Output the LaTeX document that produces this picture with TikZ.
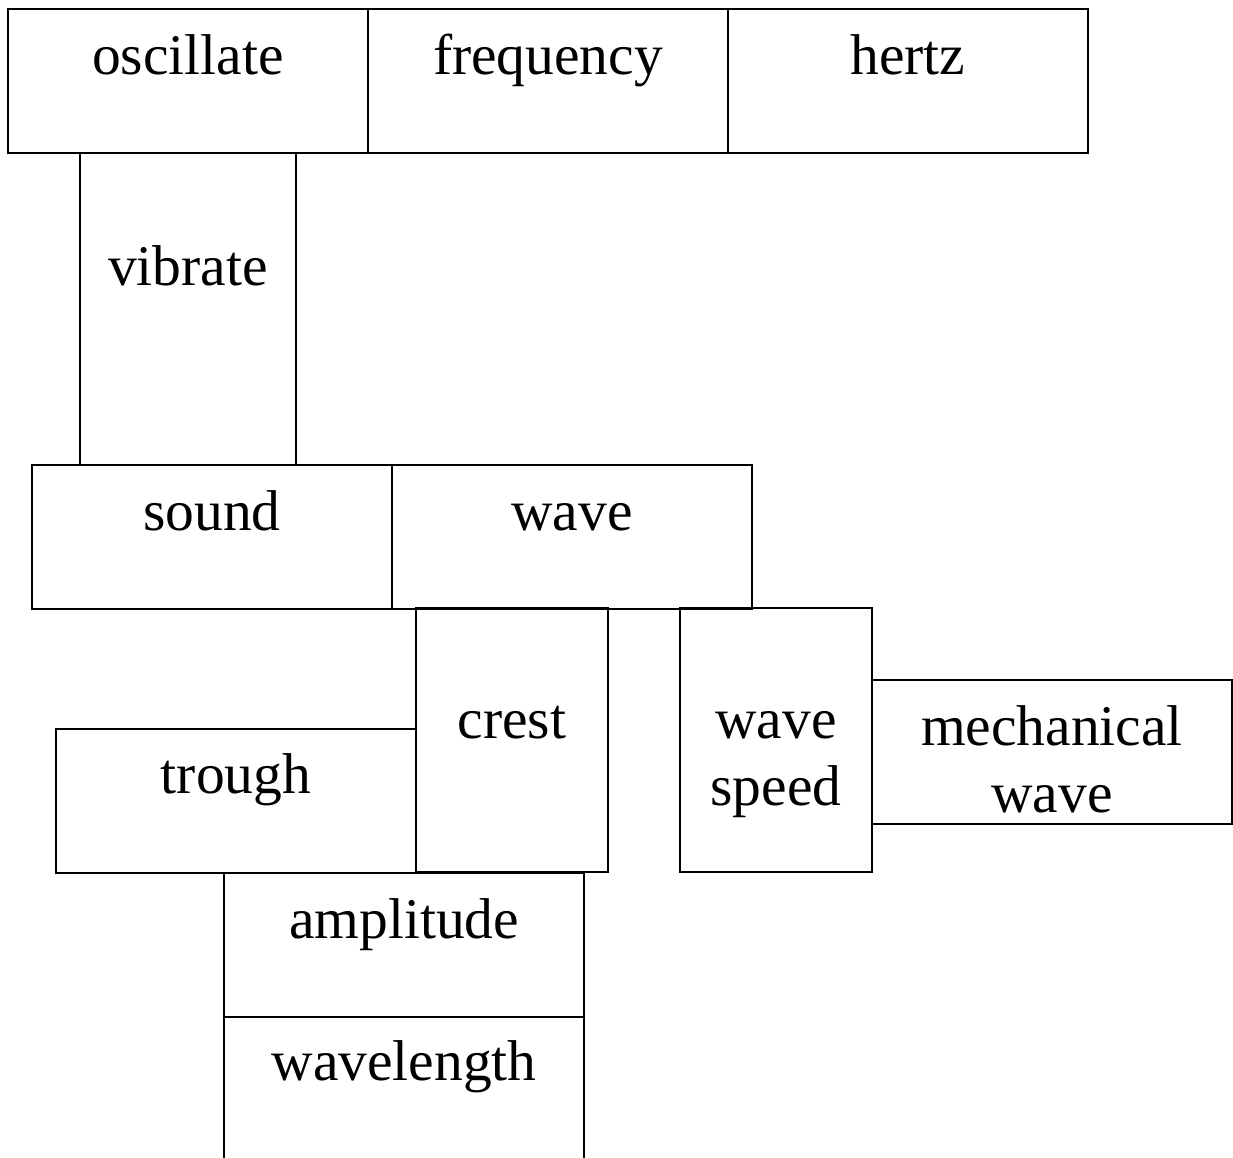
\documentclass[tikz,border=0pt]{standalone}
\usepackage{fontspec}
\setmainfont{Liberation Serif}
\tikzset{
  cell/.style={draw, line width=2pt, inner sep=0pt, anchor=north west},
  word/.style={inner sep=0pt, anchor=base, align=center,
    font=\fontsize{57.5}{67}\selectfont}
}
\begin{document}
\begin{tikzpicture}[x=1pt,y=-1pt]
  \useasboundingbox (0,0) rectangle (1233,1157);
  % boxes
  \node[cell, minimum width=360pt, minimum height=144pt] (oscillate) at (7,8) {};
  \node[cell, minimum width=360pt, minimum height=144pt] (frequency) at (367,8) {};
  \node[cell, minimum width=360pt, minimum height=144pt] (hertz) at (727,8) {};
  \node[cell, minimum width=216pt, minimum height=312pt] (vibrate) at (79,152) {};
  \node[cell, minimum width=360pt, minimum height=144pt] (sound) at (31,464) {};
  \node[cell, minimum width=360pt, minimum height=144pt] (wave) at (391,464) {};
  \node[cell, minimum width=360pt, minimum height=144pt] (trough) at (55,728) {};
  \node[cell, minimum width=192pt, minimum height=264pt] (crest) at (415,607) {};
  \node[cell, minimum width=192pt, minimum height=264pt] (speed) at (679,607) {};
  \node[cell, minimum width=360pt, minimum height=144pt] (mechanical) at (871,679) {};
  \node[cell, minimum width=360pt, minimum height=144pt] (amplitude) at (223,872) {};
  \node[cell, minimum width=360pt, minimum height=144pt] (wavelength) at (223,1016) {};
  % words (base = last line)
  \node[word] (oscillate-t) at ([yshift=-66pt]oscillate.north) {oscillate};
  \node[word] (frequency-t) at ([yshift=-66pt]frequency.north) {frequency};
  \node[word] (hertz-t) at ([yshift=-66pt]hertz.north) {hertz};
  \node[word] (vibrate-t) at ([yshift=-133pt]vibrate.north) {vibrate};
  \node[word] (sound-t) at ([yshift=-66pt]sound.north) {sound};
  \node[word] (wave-t) at ([yshift=-66pt]wave.north) {wave};
  \node[word] (trough-t) at ([yshift=-65pt]trough.north) {trough};
  \node[word] (crest-t) at ([yshift=-131pt]crest.north) {crest};
  \node[word] (speed-t) at ([yshift=-198pt]speed.north) {wave\\speed};
  \node[word] (mechanical-t) at ([yshift=-133pt]mechanical.north) {mechanical\\wave};
  \node[word] (amplitude-t) at ([yshift=-66pt]amplitude.north) {amplitude};
  \node[word] (wavelength-t) at ([yshift=-64pt]wavelength.north) {wavelength};
\end{tikzpicture}
\end{document}
